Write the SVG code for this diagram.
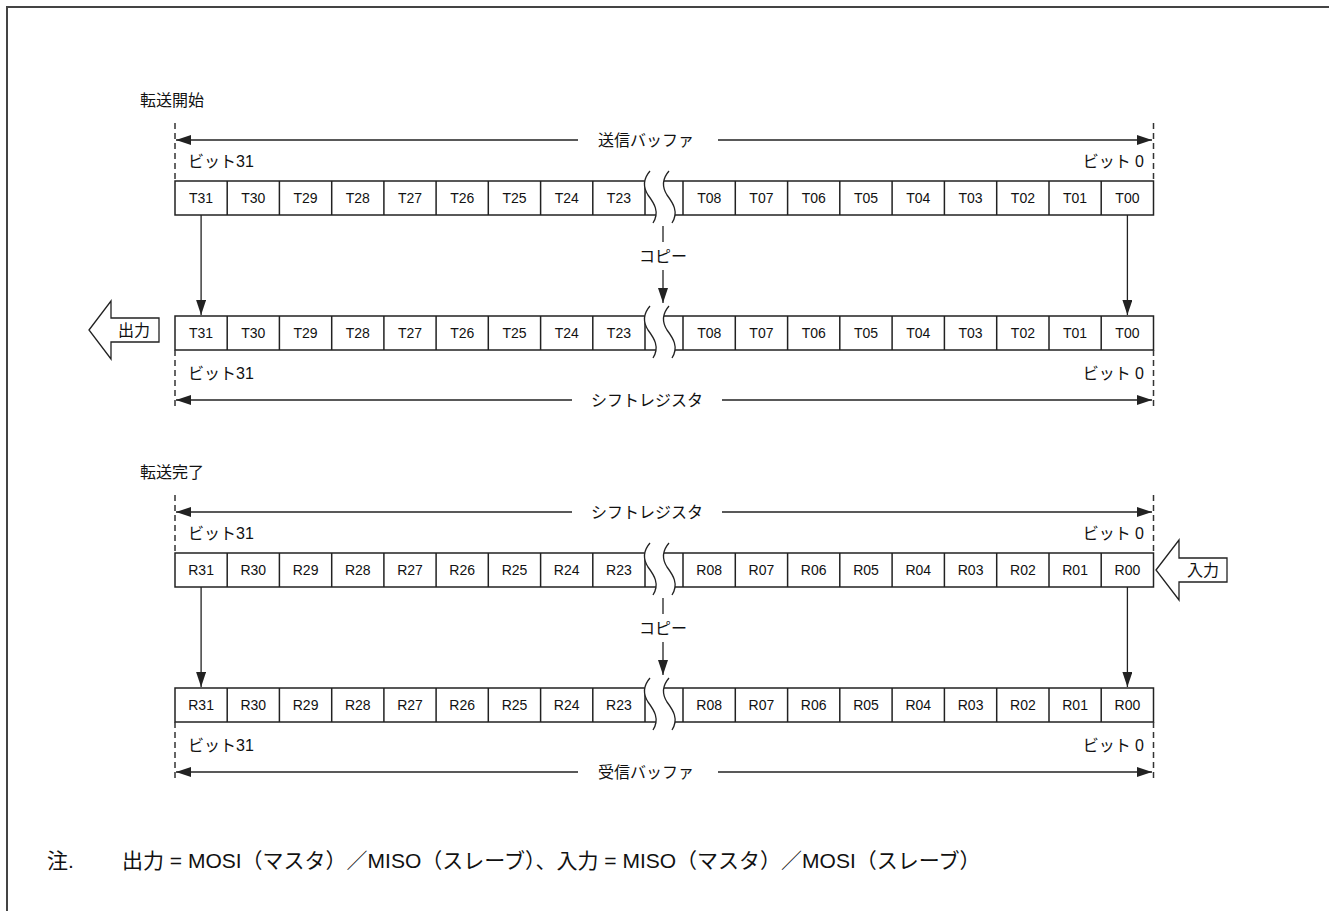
<svg xmlns="http://www.w3.org/2000/svg" xmlns:xlink="http://www.w3.org/1999/xlink" width="1329" height="911" viewBox="0 0 1329 911">
<style>
.ln{stroke:#222;stroke-width:1.3;fill:none}
.cell{stroke:#222;stroke-width:1.5;fill:#fff}
.div{stroke:#222;stroke-width:1.5}
.dash{stroke:#333;stroke-width:1.5;stroke-dasharray:6 4;fill:none}
.ct{font-family:"Liberation Sans",Arial,sans-serif;font-size:14px;fill:#111;text-anchor:middle}
.jp{font-family:"Liberation Sans","Noto Sans CJK JP",sans-serif;font-size:16px;fill:#111}
.mid{text-anchor:middle}
.end{text-anchor:end}
.note{font-family:"Liberation Sans","Noto Sans CJK JP",sans-serif;font-size:21px;fill:#111}
.big{fill:#fff;stroke:#222;stroke-width:1.3}
</style>
<defs>
<marker id="ah" markerUnits="userSpaceOnUse" markerWidth="15" markerHeight="10" refX="15" refY="5" orient="auto-start-reverse">
<path d="M0,0 L15,5 L0,10 z" fill="#222"/>
</marker>
<g id="brk">
<path d="M650,-10 C643,-2 643,6 648,14 C654,22 660,31 653,42 L672,42 C679,31 673,22 667,14 C662,6 662,-2 669,-10 Z" fill="#fff" stroke="none"/>
<path d="M650,-10 C643,-2 643,6 648,14 C654,22 660,31 653,42" class="ln"/>
<path d="M669,-10 C662,-2 662,6 667,14 C673,22 679,31 672,42" class="ln"/>
</g>
<g id="cells">
<rect x="175" y="0" width="978.5" height="34" class="cell"/>
<path class="div" d="M227.2,0V34M279.4,0V34M331.7,0V34M383.9,0V34M436.1,0V34M488.3,0V34M540.6,0V34M592.8,0V34M645,0V34M683,0V34M735.3,0V34M787.6,0V34M839.8,0V34M892.1,0V34M944.4,0V34M996.7,0V34M1049,0V34M1101.2,0V34"/>
<use xlink:href="#brk"/>
</g>
</defs>

<path d="M7,911 V7 H1329" stroke="#444" stroke-width="2" fill="none"/>

<text x="140" y="106" class="jp">転送開始</text>
<text x="140" y="478" class="jp">転送完了</text>

<g id="tx-buffer">
<use xlink:href="#cells" transform="translate(0,181)"/>
<g transform="translate(0,181)">
<text class="ct" y="22" x="201.1">T31</text><text class="ct" y="22" x="253.3">T30</text><text class="ct" y="22" x="305.6">T29</text><text class="ct" y="22" x="357.8">T28</text><text class="ct" y="22" x="410">T27</text><text class="ct" y="22" x="462.2">T26</text><text class="ct" y="22" x="514.5">T25</text><text class="ct" y="22" x="566.7">T24</text><text class="ct" y="22" x="618.9">T23</text>
<text class="ct" y="22" x="709.2">T08</text><text class="ct" y="22" x="761.4">T07</text><text class="ct" y="22" x="813.7">T06</text><text class="ct" y="22" x="866">T05</text><text class="ct" y="22" x="918.3">T04</text><text class="ct" y="22" x="970.6">T03</text><text class="ct" y="22" x="1022.9">T02</text><text class="ct" y="22" x="1075.1">T01</text><text class="ct" y="22" x="1127.4">T00</text>
</g>
<text x="188" y="167" class="jp">ビット31</text>
<text x="1144" y="167" class="jp end">ビット 0</text>
<text x="646" y="146" class="jp mid">送信バッファ</text>
</g>

<g id="shift-register-1">
<use xlink:href="#cells" transform="translate(0,316)"/>
<g transform="translate(0,316)">
<text class="ct" y="22" x="201.1">T31</text><text class="ct" y="22" x="253.3">T30</text><text class="ct" y="22" x="305.6">T29</text><text class="ct" y="22" x="357.8">T28</text><text class="ct" y="22" x="410">T27</text><text class="ct" y="22" x="462.2">T26</text><text class="ct" y="22" x="514.5">T25</text><text class="ct" y="22" x="566.7">T24</text><text class="ct" y="22" x="618.9">T23</text>
<text class="ct" y="22" x="709.2">T08</text><text class="ct" y="22" x="761.4">T07</text><text class="ct" y="22" x="813.7">T06</text><text class="ct" y="22" x="866">T05</text><text class="ct" y="22" x="918.3">T04</text><text class="ct" y="22" x="970.6">T03</text><text class="ct" y="22" x="1022.9">T02</text><text class="ct" y="22" x="1075.1">T01</text><text class="ct" y="22" x="1127.4">T00</text>
</g>
<text x="188" y="379" class="jp">ビット31</text>
<text x="1144" y="379" class="jp end">ビット 0</text>
<text x="647" y="406" class="jp mid">シフトレジスタ</text>
</g>

<g id="shift-register-2">
<use xlink:href="#cells" transform="translate(0,553)"/>
<g transform="translate(0,553)">
<text class="ct" y="22" x="201.1">R31</text><text class="ct" y="22" x="253.3">R30</text><text class="ct" y="22" x="305.6">R29</text><text class="ct" y="22" x="357.8">R28</text><text class="ct" y="22" x="410">R27</text><text class="ct" y="22" x="462.2">R26</text><text class="ct" y="22" x="514.5">R25</text><text class="ct" y="22" x="566.7">R24</text><text class="ct" y="22" x="618.9">R23</text>
<text class="ct" y="22" x="709.2">R08</text><text class="ct" y="22" x="761.4">R07</text><text class="ct" y="22" x="813.7">R06</text><text class="ct" y="22" x="866">R05</text><text class="ct" y="22" x="918.3">R04</text><text class="ct" y="22" x="970.6">R03</text><text class="ct" y="22" x="1022.9">R02</text><text class="ct" y="22" x="1075.1">R01</text><text class="ct" y="22" x="1127.4">R00</text>
</g>
<text x="188" y="539" class="jp">ビット31</text>
<text x="1144" y="539" class="jp end">ビット 0</text>
<text x="647" y="518" class="jp mid">シフトレジスタ</text>
</g>

<g id="rx-buffer">
<use xlink:href="#cells" transform="translate(0,688)"/>
<g transform="translate(0,688)">
<text class="ct" y="22" x="201.1">R31</text><text class="ct" y="22" x="253.3">R30</text><text class="ct" y="22" x="305.6">R29</text><text class="ct" y="22" x="357.8">R28</text><text class="ct" y="22" x="410">R27</text><text class="ct" y="22" x="462.2">R26</text><text class="ct" y="22" x="514.5">R25</text><text class="ct" y="22" x="566.7">R24</text><text class="ct" y="22" x="618.9">R23</text>
<text class="ct" y="22" x="709.2">R08</text><text class="ct" y="22" x="761.4">R07</text><text class="ct" y="22" x="813.7">R06</text><text class="ct" y="22" x="866">R05</text><text class="ct" y="22" x="918.3">R04</text><text class="ct" y="22" x="970.6">R03</text><text class="ct" y="22" x="1022.9">R02</text><text class="ct" y="22" x="1075.1">R01</text><text class="ct" y="22" x="1127.4">R00</text>
</g>
<text x="188" y="751" class="jp">ビット31</text>
<text x="1144" y="751" class="jp end">ビット 0</text>
<text x="646" y="778" class="jp mid">受信バッファ</text>
</g>

<g id="out-arrow">
<path class="big" d="M89,330 L111,301 L111,318 L159,318 L159,342 L111,342 L111,359 Z"/>
<text x="134" y="336" class="jp mid">出力</text>
</g>
<g id="in-arrow">
<path class="big" d="M1156,570 L1179,540 L1179,558 L1227,558 L1227,582 L1179,582 L1179,600 Z"/>
<text x="1203" y="576" class="jp mid">入力</text>
</g>

<g id="connectors">
<path class="dash" d="M175,123V181M1153.5,123V181M175,350V408M1153.5,350V408M175,495V553M1153.5,495V553M175,722V780M1153.5,722V780"/>
<line class="ln" x1="578" y1="140" x2="176" y2="140" marker-end="url(#ah)"/>
<line class="ln" x1="718" y1="140" x2="1152" y2="140" marker-end="url(#ah)"/>
<line class="ln" x1="572" y1="400" x2="176" y2="400" marker-end="url(#ah)"/>
<line class="ln" x1="722" y1="400" x2="1152" y2="400" marker-end="url(#ah)"/>
<line class="ln" x1="572" y1="512" x2="176" y2="512" marker-end="url(#ah)"/>
<line class="ln" x1="722" y1="512" x2="1152" y2="512" marker-end="url(#ah)"/>
<line class="ln" x1="578" y1="772" x2="176" y2="772" marker-end="url(#ah)"/>
<line class="ln" x1="718" y1="772" x2="1152" y2="772" marker-end="url(#ah)"/>
<line class="ln" x1="201.1" y1="215" x2="201.1" y2="315" marker-end="url(#ah)"/>
<line class="ln" x1="1127.4" y1="215" x2="1127.4" y2="315" marker-end="url(#ah)"/>
<line class="ln" x1="663" y1="226" x2="663" y2="242"/>
<line class="ln" x1="663" y1="270" x2="663" y2="303" marker-end="url(#ah)"/>
<text x="663" y="262" class="jp mid">コピー</text>
<line class="ln" x1="201.1" y1="587" x2="201.1" y2="687" marker-end="url(#ah)"/>
<line class="ln" x1="1127.4" y1="587" x2="1127.4" y2="687" marker-end="url(#ah)"/>
<line class="ln" x1="663" y1="598" x2="663" y2="614"/>
<line class="ln" x1="663" y1="642" x2="663" y2="675" marker-end="url(#ah)"/>
<text x="663" y="634" class="jp mid">コピー</text>
</g>

<text x="47" y="868" class="note">注.</text>
<text x="122" y="868" class="note">出力 = MOSI（マスタ）／MISO（スレーブ）、入力 = MISO（マスタ）／MOSI（スレーブ）</text>
</svg>
